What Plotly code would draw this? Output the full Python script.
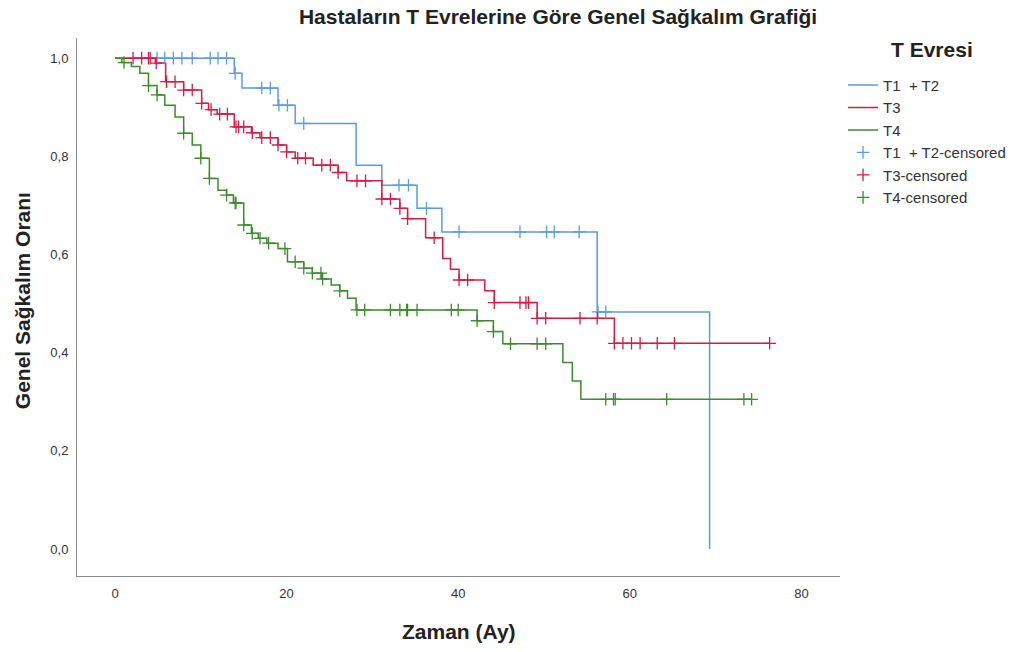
import numpy as np
import plotly.graph_objects as go

# Kaplan-Meier step curves: event times (months) and survival after each event
t12_times = [0, 13.9, 14.8, 19.0, 21.0, 28.1, 31.1, 35.2, 38.1, 56.2, 69.3]
t12_surv = [1.0, 0.969, 0.939, 0.904, 0.867, 0.782, 0.741, 0.694, 0.646, 0.483, 0.0]
t12_censored = [4.9, 5.8, 6.8, 7.8, 9.0, 11.1, 12.0, 13.0, 14.0, 17.1, 18.1, 19.1, 20.1,
                22.0, 33.1, 34.2, 36.3, 40.1, 47.2, 50.3, 51.2, 54.1, 56.3, 57.2]

t3_times = [0, 4.7, 5.9, 8.0, 10.1, 10.9, 11.9, 13.9, 15.9, 16.9, 19.0, 20.0, 21.0, 23.1,
            26.0, 27.0, 31.1, 33.2, 34.1, 36.2, 38.2, 39.1, 40.1, 43.1, 44.2, 49.2, 58.2]
t3_surv = [1.0, 0.99, 0.952, 0.935, 0.908, 0.895, 0.886, 0.860, 0.848, 0.838, 0.823, 0.809,
           0.796, 0.782, 0.767, 0.750, 0.713, 0.694, 0.673, 0.634, 0.592, 0.570, 0.548,
           0.526, 0.502, 0.470, 0.419]
t3_censored = [2.1, 3.1, 3.9, 4.1, 4.8, 6.0, 7.0, 8.0, 9.0, 10.1, 11.2, 12.2, 13.1, 14.1,
               14.4, 15.0, 16.0, 17.1, 18.1, 19.0, 20.0, 21.3, 22.2, 24.1, 25.1, 26.0, 28.2,
               29.2, 31.1, 32.1, 33.2, 34.1, 37.2, 40.1, 41.1, 44.2, 47.2, 47.9, 48.2, 49.2,
               50.2, 54.2, 56.2, 58.2, 59.2, 60.2, 61.2, 63.2, 65.2, 76.3]

t4_times = [0, 0.8, 1.9, 2.9, 3.9, 4.9, 5.8, 7.0, 8.0, 9.0, 10.0, 11.0, 12.0, 13.0, 13.8,
            15.0, 15.9, 16.7, 17.7, 19.0, 20.1, 22.0, 23.0, 24.1, 25.2, 26.2, 27.1, 28.1,
            42.2, 44.1, 45.2, 52.2, 53.3, 54.3]
t4_surv = [1.0, 0.991, 0.983, 0.969, 0.944, 0.925, 0.904, 0.880, 0.847, 0.823, 0.796, 0.755,
           0.731, 0.721, 0.705, 0.660, 0.643, 0.633, 0.623, 0.612, 0.585, 0.572, 0.562,
           0.550, 0.538, 0.526, 0.511, 0.487, 0.465, 0.443, 0.418, 0.380, 0.342, 0.305]
t4_censored = [1.05, 3.9, 4.9, 8.0, 10.0, 11.0, 13.0, 14.0, 14.1, 15.0, 16.0, 16.9, 17.9,
               19.8, 21.0, 22.0, 23.0, 24.0, 24.2, 26.2, 28.2, 29.1, 32.1, 33.2, 34.0, 34.1,
               35.2, 39.2, 40.0, 42.2, 44.1, 46.1, 49.2, 50.2, 57.2, 58.1, 58.3, 64.3, 73.3,
               74.2]

groups = [
    ("T1  + T2", t12_times, t12_surv, t12_censored, "#5b9be6", None),
    ("T3", t3_times, t3_surv, t3_censored, "#d81b43", t3_censored[-1]),
    ("T4", t4_times, t4_surv, t4_censored, "#3d8b2e", t4_censored[-1]),
]

x_ticks = [0, 20, 40, 60, 80]
y_ticks = [0.0, 0.2, 0.4, 0.6, 0.8, 1.0]


def surv_at(times, surv, t):
    """Survival value of the step function at time t (right-continuous)."""
    idx = np.searchsorted(np.asarray(times), np.asarray(t), side="right") - 1
    return np.asarray(surv)[idx]


font = "Liberation Sans, Arial, sans-serif"
fig = go.Figure()

# step lines
for name, times, surv, cens, color, end_t in groups:
    xs = list(times)
    ys = list(surv)
    if end_t is not None and end_t > xs[-1]:
        xs.append(end_t)
        ys.append(surv[-1])
    fig.add_trace(go.Scatter(
        x=xs, y=ys, mode="lines", name=name,
        line=dict(color=color, width=1.5, shape="hv"),
        hoverinfo="skip",
    ))

# censored observations
for name, times, surv, cens, color, end_t in groups:
    fig.add_trace(go.Scatter(
        x=cens, y=surv_at(times, surv, cens), mode="markers",
        name=name + "-censored",
        marker=dict(symbol="cross-thin", size=9, color=color,
                    line=dict(color=color, width=1.3)),
        hoverinfo="skip",
    ))

fig.update_layout(
    width=1023, height=652,
    margin=dict(l=77, r=183, t=38, b=76, autoexpand=False),
    paper_bgcolor="white", plot_bgcolor="white",
    separators=",.",
    font=dict(family=font, color="#222"),
    title=dict(
        text="<b>Hastaların T Evrelerine Göre Genel Sağkalım Grafiği</b>",
        x=0.5455, xanchor="center", y=0.974, yanchor="middle",
        font=dict(size=21, color="#222"),
    ),
    legend=dict(
        x=1.004, xanchor="left", y=0.943, yanchor="top",
        font=dict(size=15, color="#333"),
        itemwidth=30,
        bgcolor="rgba(0,0,0,0)",
    ),
    showlegend=True,
    annotations=[
        dict(text="<b>T Evresi</b>", xref="paper", yref="paper",
             x=1.121, y=0.978, xanchor="center", yanchor="middle",
             showarrow=False, font=dict(size=21, color="#222")),
        dict(text="<b>Genel Sağkalım Oranı</b>", xref="paper", yref="paper",
             x=-0.072, y=0.511, xanchor="center", yanchor="middle",
             textangle=-90, showarrow=False, font=dict(size=21, color="#222")),
        dict(text="<b>Zaman (Ay)</b>", xref="paper", yref="paper",
             x=0.5, y=-0.104, xanchor="center", yanchor="middle",
             showarrow=False, font=dict(size=21, color="#222")),
    ],
)

fig.update_xaxes(
    range=[-4.43, 84.5], tickvals=x_ticks, tickformat="d",
    showgrid=False, zeroline=False,
    showline=True, linecolor="#8c8c8c", linewidth=1,
    ticks="", ticklabelstandoff=5, tickfont=dict(size=13, color="#333"),
)
fig.update_yaxes(
    range=[-0.055, 1.041], tickvals=y_ticks, tickformat=".1f",
    showgrid=False, zeroline=False,
    showline=True, linecolor="#8c8c8c", linewidth=1,
    ticks="", ticklabelstandoff=5, tickfont=dict(size=13, color="#333"),
)

fig.write_html("out.html")
